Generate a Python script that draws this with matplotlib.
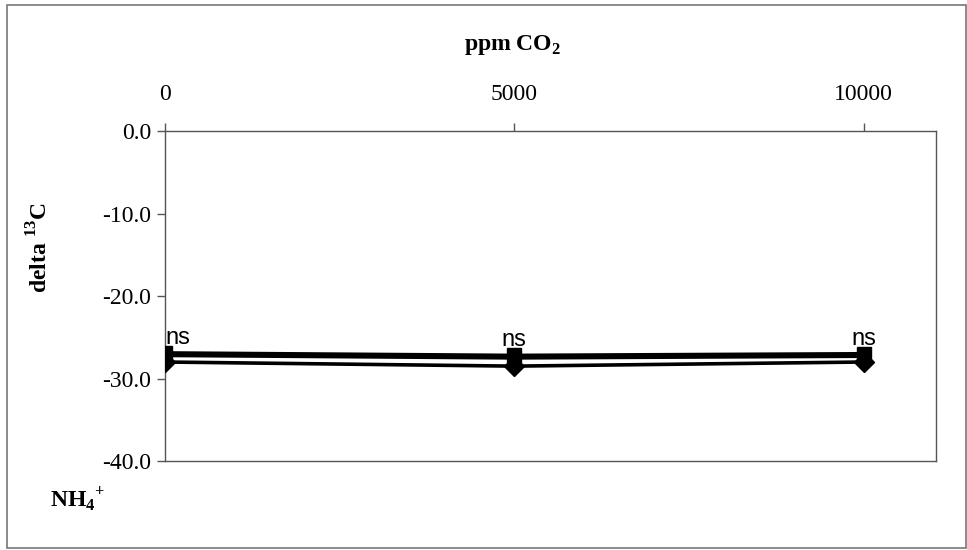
import numpy as np
import matplotlib.pyplot as plt
from matplotlib.patches import Rectangle

# CO2 levels and delta 13C means for each NH4+ treatment
co2 = [0, 5000, 10000]
d13c_sq = [-26.9, -27.2, -27.0]
d13c_tri = [-27.2, -27.5, -27.3]
d13c_dia = [-28.0, -28.5, -28.0]
sig = ['ns', 'ns', 'ns']

yticks = [0, -10, -20, -30, -40]
ytick_labels = ['0.0', '-10.0', '-20.0', '-30.0', '-40.0']

plt.rcParams['font.family'] = ['Liberation Serif', 'DejaVu Serif']
plt.rcParams['mathtext.fontset'] = 'custom'
plt.rcParams['mathtext.rm'] = 'Liberation Serif'
plt.rcParams['mathtext.bf'] = 'Liberation Serif:bold'

fig = plt.figure(figsize=(9.67, 5.5), dpi=100)
ax = fig.add_axes([0.1706, 0.1618, 0.797, 0.6])

# frame round the whole chart
fig.patches.append(Rectangle((7/967, 2/550), 959/967, 543/550, transform=fig.transFigure,
                             fill=False, edgecolor='#777777', lw=1.2))

ax.plot(co2, d13c_sq, color='black', lw=2.6, marker='s', ms=10, zorder=3)
ax.plot(co2, d13c_tri, color='black', lw=2.6, marker='^', ms=10, zorder=3)
ax.plot(co2, d13c_dia, color='black', lw=2.6, marker='D', ms=10, zorder=3)

for i, (x, s) in enumerate(zip(co2, sig)):
    y = max(d13c_sq[i], d13c_tri[i])
    ax.text(x, y + 0.5, s, ha='left' if i == 0 else 'center', va='bottom',
            family='Liberation Sans', fontsize=17)

ax.set_xlim(0, 11030)
ax.set_ylim(-40, 0)
ax.xaxis.tick_top()
ax.set_xticks(co2)
ax.set_xticklabels([str(c) for c in co2], fontsize=17)
ax.set_yticks(yticks)
ax.set_yticklabels(ytick_labels, fontsize=17)
ax.tick_params(axis='x', direction='out', length=6, width=1, color='#555555', pad=13)
ax.tick_params(axis='y', direction='out', length=6, width=1, color='#555555', pad=4)
for sp in ax.spines.values():
    sp.set_color('#555555')
    sp.set_linewidth(1)

fig.text(513/967, 1 - 45/550, r'ppm CO$_\mathbf{2}$', ha='center', va='center',
         fontsize=17, fontweight='bold')
fig.text(40/967, 1 - 248/550, r'delta $^\mathbf{13}$C', ha='center', va='center',
         rotation=90, fontsize=17, fontweight='bold')
fig.text(50/967, 1 - 500/550, r'NH$_\mathbf{4}$$^\mathbf{+}$', ha='left', va='center',
         fontsize=17, fontweight='bold')

fig.savefig('out.png', dpi=100)
